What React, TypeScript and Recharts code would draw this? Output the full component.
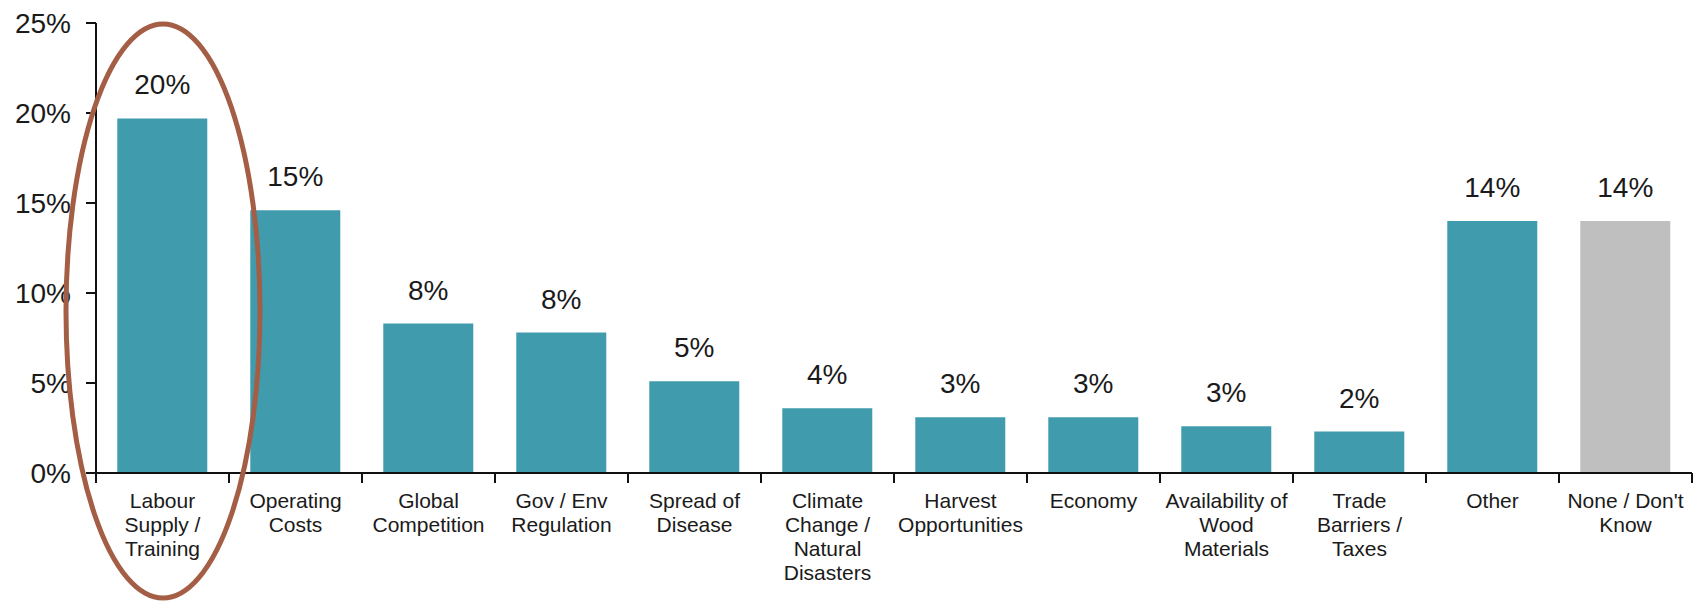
import { BarChart, Bar, XAxis, YAxis, Cell, LabelList } from "recharts";

const categories = [
  "Labour Supply / Training",
  "Operating Costs",
  "Global Competition",
  "Gov / Env Regulation",
  "Spread of Disease",
  "Climate Change / Natural Disasters",
  "Harvest Opportunities",
  "Economy",
  "Availability of Wood Materials",
  "Trade Barriers / Taxes",
  "Other",
  "None / Don't Know",
];

// how each category label wraps under the axis
const tickLines = [
  ["Labour", "Supply /", "Training"],
  ["Operating", "Costs"],
  ["Global", "Competition"],
  ["Gov / Env", "Regulation"],
  ["Spread of", "Disease"],
  ["Climate", "Change /", "Natural", "Disasters"],
  ["Harvest", "Opportunities"],
  ["Economy"],
  ["Availability of", "Wood", "Materials"],
  ["Trade", "Barriers /", "Taxes"],
  ["Other"],
  ["None / Don't", "Know"],
];

const shares = [19.7, 14.6, 8.3, 7.8, 5.1, 3.6, 3.1, 3.1, 2.6, 2.3, 14.0, 14.0];

const yTicks = [0, 5, 10, 15, 20, 25];

const GREY_CATEGORY = "None / Don't Know";
const TEAL = "#409CAD";
const GREY = "#BFBFBF";
const FONT = "'Liberation Sans', Arial, sans-serif";

const data = categories.map((name, i) => ({ name, value: shares[i] }));

function CategoryTick(props: any) {
  const { x, y, width, index, visibleTicksCount } = props;
  const band = width / visibleTicksCount;
  const lines = tickLines[index] || [];
  return (
    <g>
      <line x1={x - band / 2} x2={x - band / 2} y1={y} y2={y + 10} stroke="#111" strokeWidth={2} />
      {index === visibleTicksCount - 1 && (
        <line x1={x + band / 2} x2={x + band / 2} y1={y} y2={y + 10} stroke="#111" strokeWidth={2} />
      )}
      <text x={x} y={y + 35} textAnchor="middle" fontSize={21} fontFamily={FONT} fill="#1a1a1a">
        {lines.map((l, i) => (
          <tspan key={i} x={x} dy={i === 0 ? 0 : 24}>
            {l}
          </tspan>
        ))}
      </text>
    </g>
  );
}

export default function App() {
  return (
    <div style={{ position: "absolute", left: 0, top: 0, width: 1704, height: 603, background: "#fff" }}>
      <BarChart
        width={1704}
        height={603}
        data={data}
        margin={{ top: 23, right: 12, left: 0, bottom: 0 }}
        barCategoryGap="16%"
      >
        <YAxis
          domain={[0, 25]}
          ticks={yTicks}
          tickFormatter={(v) => `${v}%`}
          width={96}
          tickSize={10}
          tickMargin={15}
          axisLine={{ stroke: "#111", strokeWidth: 2 }}
          tickLine={{ stroke: "#111", strokeWidth: 2 }}
          tick={{ fontSize: 28, fontFamily: FONT, fill: "#1a1a1a" }}
        />
        <XAxis
          dataKey="name"
          height={130}
          interval={0}
          tickSize={0}
          tickMargin={0}
          tickLine={false}
          axisLine={{ stroke: "#111", strokeWidth: 2 }}
          tick={<CategoryTick />}
        />
        <Bar dataKey="value" isAnimationActive={false}>
          {data.map((d) => (
            <Cell key={d.name} fill={d.name === GREY_CATEGORY ? GREY : TEAL} />
          ))}
          <LabelList
            dataKey="value"
            position="top"
            offset={24}
            formatter={(v: any) => `${Math.round(v)}%`}
            style={{ fontSize: 28, fontFamily: FONT, fill: "#1a1a1a" }}
          />
        </Bar>
      </BarChart>
      {/* highlight drawn round the first category */}
      <svg width={1704} height={603} style={{ position: "absolute", left: 0, top: 0, pointerEvents: "none" }}>
        <ellipse cx={163} cy={311} rx={97} ry={287} fill="none" stroke="#A45E45" strokeWidth={5} />
      </svg>
    </div>
  );
}
